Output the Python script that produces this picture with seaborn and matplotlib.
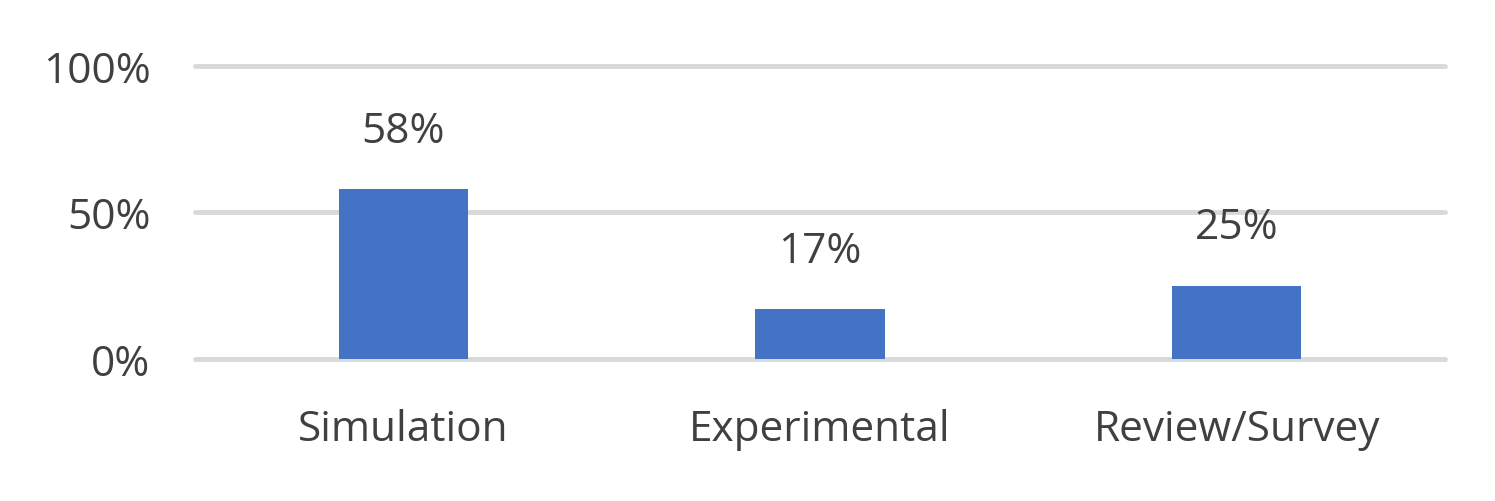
import matplotlib
matplotlib.use("Agg")
import matplotlib.pyplot as plt
import seaborn as sns
import pandas as pd

categories = ["Simulation", "Experimental", "Review/Survey"]
shares = [0.58, 0.17, 0.25]
value_labels = ["58%", "17%", "25%"]
y_ticks = [0, 0.5, 1.0]
y_tick_labels = ["0%", "50%", "100%"]

sns.set_style("white")
plt.rcParams["font.family"] = ["Open Sans", "DejaVu Sans"]

df = pd.DataFrame({"category": categories, "share": shares})

fig = plt.figure(figsize=(14.95, 5.02), dpi=100)
ax = fig.add_axes([0.1304, 0.283, 0.8362, 0.5835])

sns.barplot(data=df, x="category", y="share", color="#4472C4",
            width=0.31, saturation=1, linewidth=0, ax=ax, zorder=3)

ax.set_ylim(0, 1.0)
ax.set_yticks(y_ticks)
ax.set_yticklabels(y_tick_labels)
ax.yaxis.grid(True, color="#D9D9D9", linewidth=3.5, zorder=0)
for gl in ax.get_ygridlines():
    gl.set_clip_on(False)
ax.set_axisbelow(True)
sns.despine(ax=ax, left=True, bottom=True, top=True, right=True)

ax.tick_params(axis="both", length=0, labelsize=30.5, labelcolor="#404040")
ax.tick_params(axis="x", pad=35)
ax.tick_params(axis="y", pad=32)
ax.set_xlabel("")
ax.set_ylabel("")

for i, (v, lab) in enumerate(zip(shares, value_labels)):
    ax.annotate(lab, xy=(i, v), xytext=(0, 42), textcoords="offset points",
                ha="center", va="center", fontsize=30.5, color="#404040")

fig.savefig("out.png", dpi=100)
